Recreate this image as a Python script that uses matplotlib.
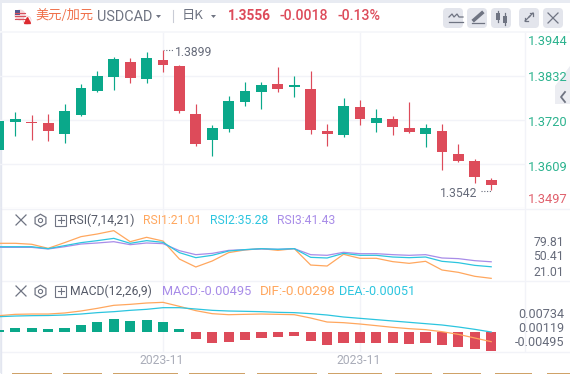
import matplotlib
matplotlib.use("Agg")
import matplotlib.pyplot as plt
from matplotlib.patches import Rectangle, FancyBboxPatch, Polygon, Circle

W, H = 570, 374
CJK = ['Noto Sans CJK SC', 'DejaVu Sans']
plt.rcParams['font.family'] = ['Roboto', 'Noto Sans CJK SC', 'DejaVu Sans']

# ---------- data ----------
price_open = [1.3644, 1.3715, 1.3715, 1.3712, 1.3684, 1.3733, 1.3794, 1.3829, 1.3868, 1.3824, 1.3873,
              1.3857, 1.3735, 1.3669, 1.3697, 1.3766, 1.3791, 1.3812, 1.3805, 1.3799, 1.3692, 1.3682,
              1.3753, 1.3712, 1.3723, 1.3700, 1.3684, 1.3692, 1.3633, 1.3616, 1.3567]
price_close = [1.3717, 1.3724, 1.3713, 1.3692, 1.3743, 1.3801, 1.3832, 1.3875, 1.3827, 1.3878, 1.3860,
               1.3743, 1.3659, 1.3700, 1.3768, 1.3794, 1.3809, 1.3799, 1.3807, 1.3695, 1.3684, 1.3756,
               1.3723, 1.3725, 1.3702, 1.3690, 1.3700, 1.3639, 1.3616, 1.3575, 1.3556]
price_high = [1.3717, 1.3740, 1.3733, 1.3735, 1.3761, 1.3812, 1.3845, 1.3880, 1.3878, 1.3893, 1.3899,
              1.3860, 1.3761, 1.3707, 1.3781, 1.3817, 1.3817, 1.3855, 1.3832, 1.3845, 1.3710, 1.3776,
              1.3771, 1.3748, 1.3730, 1.3766, 1.3710, 1.3710, 1.3659, 1.3621, 1.3572]
price_low = [1.3644, 1.3679, 1.3669, 1.3667, 1.3661, 1.3730, 1.3791, 1.3796, 1.3814, 1.3814, 1.3842,
             1.3738, 1.3654, 1.3628, 1.3690, 1.3756, 1.3748, 1.3791, 1.3779, 1.3684, 1.3654, 1.3677,
             1.3707, 1.3690, 1.3682, 1.3687, 1.3651, 1.3593, 1.3613, 1.3560, 1.3542]
price_ticks = ['1.3944', '1.3832', '1.3720', '1.3609', '1.3497']
grid_prices = [1.3832, 1.3720, 1.3609, 1.3497]
date_labels = ['2023-11', '2023-11']
date_index = [10, 22]

rsi1 = [64.2, 64.2, 63.0, 58.0, 65.0, 72.4, 75.7, 79.8, 66.2, 71.6, 67.0, 44.8, 35.0, 42.4, 52.7, 56.0,
        57.6, 55.5, 57.6, 37.4, 36.2, 50.6, 45.7, 45.7, 41.6, 39.5, 42.0, 31.3, 28.4, 23.5, 21.01]
rsi2 = [60.0, 60.0, 60.0, 57.6, 61.3, 65.0, 67.5, 70.3, 64.2, 67.5, 65.4, 52.7, 46.5, 49.4, 54.7, 56.4,
        57.6, 56.8, 57.6, 46.9, 46.1, 51.8, 49.4, 49.4, 47.3, 46.5, 47.3, 42.0, 40.3, 37.0, 35.28]
rsi3 = [59.2, 59.2, 59.2, 57.2, 60.0, 63.3, 64.6, 66.2, 62.5, 64.6, 63.8, 55.1, 50.2, 51.8, 55.5, 56.4,
        57.2, 56.8, 57.6, 50.2, 49.4, 53.1, 51.4, 51.4, 50.2, 49.4, 50.2, 46.1, 45.3, 42.8, 41.43]
rsi_ticks = ['79.81', '50.41', '21.01']

dif = [.00366, .00400, .00408, .00408, .00434, .00485, .00553, .00630, .00655, .00689, .00706,
       .00604, .00494, .00417, .00391, .00400, .00408, .00400, .00391, .00306, .00204, .00187,
       .00153, .00111, .00068, .00034, .00009, -.00043, -.00111, -.00204, -.00298]
dea = [.00340, .00357, .00366, .00370, .00383, .00408, .00443, .00468, .00502, .00528, .00570,
       .00570, .00536, .00502, .00485, .00477, .00468, .00451, .00443, .00417, .00383, .00332,
       .00298, .00264, .00230, .00196, .00162, .00128, .00077, .00017, -.00051]
macd = [.00052, .00104, .00104, .00078, .00104, .00182, .00260, .00339, .00286, .00312, .00260,
        .00078, -.00182, -.00286, -.00260, -.00208, -.00156, -.00130, -.00104, -.00234, -.00339,
        -.00286, -.00286, -.00286, -.00286, -.00312, -.00286, -.00339, -.00391, -.00443, -.00495]
macd_ticks = ['0.00734', '0.00119', '-0.00495']

# ---------- style ----------
GREEN, RED = '#0AA88A', '#DD4B5A'
ORANGE, CYAN, PURPLE = '#FFA75E', '#2CC5DF', '#A88CE8'
GRID = '#F2F3F8'
TXT = '#666B7A'
ICON = '#6F7482'
LAB_G = '#2DB38F'
LAB_R = '#E0606C'
xs = list(range(len(price_open)))
XLIM = (1.1 / 16.41, 526.1 / 16.41)

fig = plt.figure(figsize=(W / 100, H / 100), dpi=100, facecolor='white')


def px_axes(x0, y0, x1, y1, z=2):
    ax = fig.add_axes([x0 / W, 1 - y1 / H, (x1 - x0) / W, (y1 - y0) / H], zorder=z)
    ax.patch.set_alpha(0)
    ax.axis('off')
    return ax


# chrome in pixel coordinates
ch = px_axes(0, 0, W, H, z=0)
ch.set_xlim(0, W)
ch.set_ylim(H, 0)
ch.add_patch(Rectangle((0, 0), W, 3, fc='#E8EBF2', ec='none'))
ch.add_patch(Rectangle((0, 3), 1.5, 370, fc='#E8EBF2', ec='none'))
ch.add_patch(Rectangle((0, 31), W, 2, fc='#F6F7FA', ec='none'))
for y in (208.5, 280.5, 351.5):
    ch.plot([1, W], [y, y], color=GRID, lw=1)
ch.plot([524.5, 524.5], [33, 351], color=GRID, lw=1)
ch.plot([1, 1], [33, 373], color='#E3E6F0', lw=1)
for a, b in [(12, 52), (63, 102), (113, 178), (189, 245), (257, 317), (328, 382), (395, 432), (443, 481),
             (495, 532), (547, 570)]:
    ch.add_patch(Rectangle((a, 373), b - a, 1, fc='#CFA268', ec='none'))
ch.add_patch(Polygon([(570, 66), (555, 86), (555, 104), (570, 104)], fc='#ECEDF2', ec='none'))
ch.plot([565, 561, 565], [92, 97, 102], color=ICON, lw=1.3)

# header
ch.add_patch(Circle((20, 15), 5.5, fc='#F4D6DA', ec='none'))
ch.add_patch(Rectangle((15, 10), 5, 5, fc='#56598F', ec='none'))
for yy in (13, 16, 19):
    ch.plot([15, 25], [yy, yy], color='#D9505C', lw=0.8)
ch.add_patch(Circle((27, 20), 4, fc='white', ec='#F0C0C4', lw=0.5))
ch.plot([27], [20], marker='^', ms=4, color='#DD2A30')
ch.text(35, 15.5, '美元/加元', family=CJK, fontsize=9.5, color='#F0704A', va='center')
ch.text(97, 16.5, 'USDCAD', fontsize=10.4, color=ICON, va='center')
ch.add_patch(Polygon([(156, 15), (161, 15), (158.5, 18)], fc=ICON, ec='none'))
ch.plot([172.5, 172.5], [10, 22], color='#C9CCD6', lw=0.8)
ch.text(182, 15, '日K', family=CJK, fontsize=9.5, color=ICON, va='center')
ch.add_patch(Polygon([(211, 15), (216, 15), (213.5, 18)], fc=ICON, ec='none'))
ch.text(228, 15.5, '1.3556', fontsize=9.8, weight='bold', color=RED, va='center')
ch.text(279, 15.5, '-0.0018', fontsize=10.2, weight='medium', color=RED, va='center')
ch.text(337, 15.5, '-0.13%', fontsize=10.2, weight='medium', color=RED, va='center')

# header buttons
for x0 in (443, 467, 491, 519, 543):
    ch.add_patch(FancyBboxPatch((x0 + 2, 10), 16, 16, boxstyle='round,pad=2,rounding_size=4', fc='#E3E5EC', ec='none'))
ch.plot([449, 452, 454, 457, 459, 463], [17, 14, 17, 14, 17, 17], color=ICON, lw=0.9)
ch.plot([449, 463], [22, 22], color=ICON, lw=0.9)
ch.plot([474, 482], [20, 13], color=ICON, lw=2.6)
ch.plot([472, 484], [23, 23], color=ICON, lw=0.9)
ch.add_patch(Rectangle((496, 13), 4, 7, fc=ICON, ec='none'))
ch.plot([498, 498], [11, 22], color=ICON, lw=0.9)
ch.add_patch(Rectangle((503, 16), 4, 7, fc=ICON, ec='none'))
ch.plot([505, 505], [13, 25], color=ICON, lw=0.9)
ch.plot([525, 530], [21, 16], color=ICON, lw=0.9)
ch.plot([529, 533], [17, 13], color=ICON, lw=0.9)
ch.plot([530, 533, 533], [13, 13, 16], color=ICON, lw=0.9)
ch.plot([525, 525, 528], [18, 21, 21], color=ICON, lw=0.9)
ch.plot([548, 558], [13, 23], color=ICON, lw=0.9)
ch.plot([548, 558], [23, 13], color=ICON, lw=0.9)


def panel_icons(y):
    ch.plot([16, 26], [y - 5, y + 5], color=ICON, lw=0.9)
    ch.plot([16, 26], [y + 5, y - 5], color=ICON, lw=0.9)
    ch.plot([40], [y], marker='h', ms=9, mfc='none', mec=ICON, mew=0.9)
    ch.plot([40], [y], marker='o', ms=3, mfc='none', mec=ICON, mew=0.8)
    ch.add_patch(Rectangle((55, y - 5.5), 11, 11, fc='none', ec=ICON, lw=0.8))
    ch.plot([57.5, 63.5], [y, y], color=ICON, lw=0.8)
    ch.plot([60.5, 60.5], [y - 3, y + 3], color=ICON, lw=0.8)


panel_icons(220)
panel_icons(291)
FS = 8.7
ch.text(69, 220.5, 'RSI(7,14,21)', fontsize=FS, color='#555A68', va='center')
ch.text(143, 220.5, 'RSI1:21.01', fontsize=FS, color=ORANGE, va='center')
ch.text(210, 220.5, 'RSI2:35.28', fontsize=FS, color=CYAN, va='center')
ch.text(277, 220.5, 'RSI3:41.43', fontsize=FS, color=PURPLE, va='center')
ch.text(70, 291.5, 'MACD(12,26,9)', fontsize=FS, color='#555A68', va='center')
ch.text(162, 291.5, 'MACD:-0.00495', fontsize=9.2, color=PURPLE, va='center')
ch.text(260, 291.5, 'DIF:-0.00298', fontsize=9.7, color=ORANGE, va='center')
ch.text(339, 291.5, 'DEA:-0.00051', fontsize=9.1, color=CYAN, va='center')

for lab, y, c in zip(price_ticks, (41, 77, 122, 167, 199), (LAB_G, LAB_G, LAB_G, LAB_G, LAB_R)):
    ch.text(528, y, lab, fontsize=9.3, color=c, va='center')
for lab, y in zip(rsi_ticks, (242, 257, 272)):
    ch.text(564, y, lab, fontsize=FS, color=TXT, va='center', ha='right')
for lab, y in zip(macd_ticks, (314, 329, 342)):
    ch.text(564, y, lab, fontsize=9.1, color=TXT, va='center', ha='right')

# main candlesticks
ax = px_axes(0, 32, 525, 208)
ax.set_xlim(*XLIM)
ax.set_ylim(1.3497, 1.3944)
for p in grid_prices:
    ax.axhline(p, color=GRID, lw=1, zorder=0)
for i, o, c, h, l in zip(xs, price_open, price_close, price_high, price_low):
    col = GREEN if c >= o else RED
    ax.vlines(i, l, h, color=col, lw=0.85, zorder=2)
    ax.bar(i, max(abs(c - o), 0.00035), bottom=min(c, o), width=0.66, color=col, lw=0, zorder=3)
ax.annotate('1.3899', xy=(10, 1.3899), xytext=(175, 52), textcoords=ch.transData, fontsize=FS, color=TXT,
            va='center', annotation_clip=False)
ax.annotate('1.3542', xy=(30, 1.3542), xytext=(440, 193), textcoords=ch.transData, fontsize=FS, color=TXT,
            va='center', annotation_clip=False)
ch.plot([163, 173], [49.5, 49.5], color=TXT, lw=0.8, ls=(0, (1, 1.5)))
ch.plot([481, 491], [190.5, 190.5], color=TXT, lw=0.8, ls=(0, (1, 1.5)))

# vertical grid and date labels
for i, lab in zip(date_index, date_labels):
    xp = -1.1 + 16.41 * i
    ch.plot([xp, xp], [33, 351], color=GRID, lw=1)
    ch.text(xp - 1, 360, lab, fontsize=8.7, color='#A9ACB8', ha='center', va='center')

# RSI
r = px_axes(0, 209, 525, 280)
r.set_xlim(*XLIM)
r.set_ylim(18.96, 106.5)
r.plot(xs, rsi1, color=ORANGE, lw=0.9)
r.plot(xs, rsi3, color=PURPLE, lw=0.9)
r.plot(xs, rsi2, color=CYAN, lw=0.9)

# MACD
b = px_axes(0, 281, 525, 351)
b.set_xlim(*XLIM)
b.set_ylim(-.00495, .01328)
b.bar(xs, macd, width=0.62, color=[GREEN if v >= 0 else RED for v in macd], lw=0)
m = px_axes(0, 281, 525, 351, z=3)
m.set_xlim(*XLIM)
m.set_ylim(-.00536, .01251)
m.plot(xs, dif, color=ORANGE, lw=0.9)
m.plot(xs, dea, color=CYAN, lw=0.9)

fig.savefig('out.png', dpi=100, facecolor='white')
